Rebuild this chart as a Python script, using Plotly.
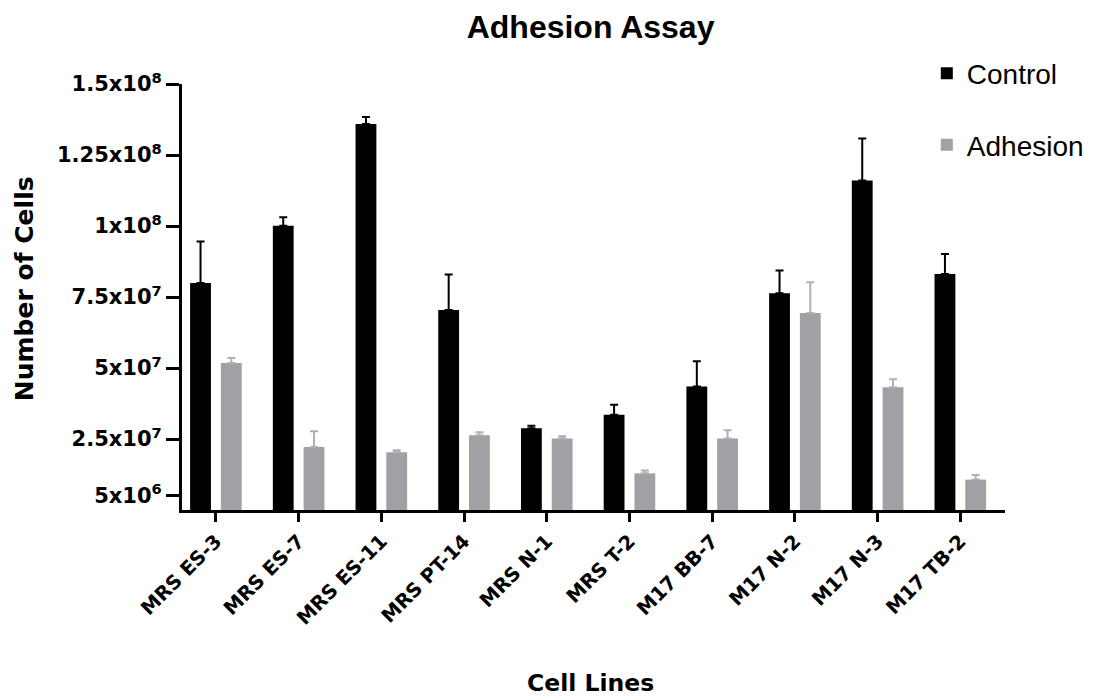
import plotly.graph_objects as go

categories = ["MRS ES-3", "MRS ES-7", "MRS ES-11", "MRS PT-14", "MRS N-1",
              "MRS T-2", "M17 BB-7", "M17 N-2", "M17 N-3", "M17 TB-2"]
control = [7.99e7, 1.001e8, 1.359e8, 7.04e7, 2.88e7, 3.35e7, 4.35e7, 7.63e7, 1.16e8, 8.31e7]
control_err = [1.46e7, 3.0e6, 2.5e6, 1.25e7, 9e5, 3.6e6, 8.9e6, 8.0e6, 1.48e7, 7.0e6]
adhesion = [5.18e7, 2.22e7, 2.03e7, 2.63e7, 2.52e7, 1.29e7, 2.52e7, 6.94e7, 4.32e7, 1.07e7]
adhesion_err = [1.7e6, 5.5e6, 7e5, 1.1e6, 8e5, 1.0e6, 2.9e6, 1.08e7, 2.8e6, 1.6e6]

y_tickvals = [5e6, 2.5e7, 5e7, 7.5e7, 1e8, 1.25e8, 1.5e8]
y_ticktext = ["5x10<sup>6</sup>", "2.5x10<sup>7</sup>", "5x10<sup>7</sup>", "7.5x10<sup>7</sup>",
              "1x10<sup>8</sup>", "1.25x10<sup>8</sup>", "1.5x10<sup>8</sup>"]

FONT = "Liberation Sans, Arial, sans-serif"
WIDE = "DejaVu Sans, Liberation Sans, sans-serif"
BLACK = "#000000"
GRAY = "#a1a1a5"
GRAY_ERR = "#b0b0b4"

fig = go.Figure()
fig.add_trace(go.Bar(
    x=categories, y=control, name="Control", legendgroup="c",
    marker=dict(color=BLACK, line=dict(width=0)),
    error_y=dict(type="data", array=control_err, arrayminus=[0] * len(control_err),
                 symmetric=False, color=BLACK, thickness=2, width=4),
))
fig.add_trace(go.Bar(
    x=categories, y=adhesion, name="Adhesion", legendgroup="a",
    marker=dict(color=GRAY, line=dict(width=0)),
    error_y=dict(type="data", array=adhesion_err, arrayminus=[0] * len(adhesion_err),
                 symmetric=False, color=GRAY_ERR, thickness=2, width=4),
))

fig.update_layout(
    width=1093, height=696,
    paper_bgcolor="white", plot_bgcolor="white",
    margin=dict(l=174, r=90, t=76, b=194),
    barmode="group", bargap=0.256, bargroupgap=0.323,
    font=dict(family=FONT, color="black"),
    title=dict(text="<b>Adhesion Assay</b>", x=0.533, xanchor="center",
               y=1 - 19 / 696, yanchor="middle", yref="container",
               font=dict(size=32, family=FONT, color="black")),
    legend=dict(x=0.905, y=1.083, xanchor="left", yanchor="top",
                font=dict(size=28, family=FONT, color="black"),
                tracegroupgap=32, traceorder="grouped",
                bgcolor="rgba(0,0,0,0)"),
    xaxis=dict(
        range=[-0.41, 9.54], showline=True, linecolor="black", linewidth=3,
        ticks="outside", ticklen=9, tickwidth=3, tickcolor="black",
        tickangle=-45, showgrid=False, zeroline=False,
        tickfont=dict(size=19.5, family=WIDE, color="black", weight="bold"),
    ),
    yaxis=dict(
        range=[0, 1.5e8], showline=True, linecolor="black", linewidth=3,
        ticks="outside", ticklen=13, tickwidth=3, tickcolor="black",
        tickvals=y_tickvals, ticktext=y_ticktext, showgrid=False, zeroline=False,
        tickfont=dict(size=21, family=WIDE, color="black", weight="bold"),
    ),
    annotations=[
        dict(text="<b>Cell Lines</b>", x=0.496, y=-(682 - 509) / 426,
             xref="paper", yref="paper", showarrow=False,
             xanchor="center", yanchor="middle",
             font=dict(size=23.5, family=WIDE, color="black")),
        dict(text="<b>Number of Cells</b>", x=-(181 - 22) / 829, y=(509 - 288) / 426,
             xref="paper", yref="paper", showarrow=False, textangle=-90,
             xanchor="center", yanchor="middle",
             font=dict(size=25, family=WIDE, color="black")),
    ],
)

fig.write_html("out.html")
